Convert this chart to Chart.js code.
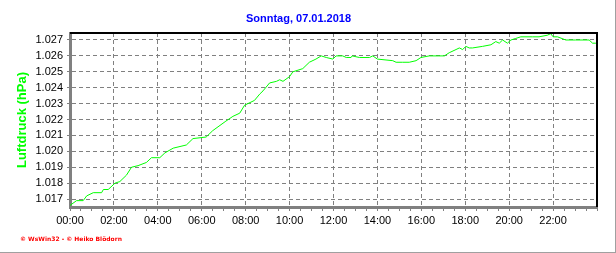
<!DOCTYPE html>
<html>
<head>
<meta charset="utf-8">
<script src="https://cdn.jsdelivr.net/npm/chart.js@4/dist/chart.umd.min.js"></script>
<style>
  html, body { margin: 0; padding: 0; background: #fff; }
  .wrap { width: 616px; height: 253px; box-sizing: border-box; border-right: 1px solid #a0a0a0; border-bottom: 1px solid #a0a0a0; }
</style>
</head>
<body>
<div class="wrap"><canvas id="chart" width="615" height="252"></canvas></div>
<script>
// time of day in hours
const hours = [0, 0.3, 0.6, 0.76, 1.06, 1.44, 1.52, 1.74, 2.05, 2.27, 2.57, 2.8, 3.1, 3.48, 3.71, 4.09,
  4.32, 4.7, 5.3, 5.6, 6.2, 6.5, 7.1, 7.42, 7.73, 7.95, 8.4, 8.64, 8.79, 9.09, 9.4, 9.55, 9.7, 10.0,
  10.15, 10.6, 10.9, 11.2, 11.44, 11.67, 11.97, 12.12, 12.42, 12.58, 12.8, 12.85, 13.18, 13.64, 13.79,
  14.0, 14.7, 14.85, 15.15, 15.45, 15.76, 15.98, 16.36, 16.8, 17.05, 17.27, 17.58, 17.73, 17.88, 18.03,
  18.18, 18.33, 18.79, 19.17, 19.39, 19.55, 19.7, 19.92, 20.08, 20.3, 20.53, 21.06, 21.36, 21.74, 21.89,
  22.0, 22.2, 22.58, 23.03, 23.64, 23.8, 23.95];
// Luftdruck
const pressure = [1.0166, 1.0169, 1.0169, 1.0172, 1.0174, 1.0174, 1.0176, 1.0176, 1.0180, 1.0181, 1.0185,
  1.0190, 1.0191, 1.0193, 1.0196, 1.0196, 1.0199, 1.0202, 1.0204, 1.0208, 1.0209, 1.0213, 1.0219, 1.0222,
  1.0224, 1.0229, 1.0232, 1.0236, 1.0238, 1.0243, 1.0244, 1.0245, 1.0244, 1.0247, 1.0250, 1.0252, 1.0256,
  1.0258, 1.0260, 1.0259, 1.0258, 1.0260, 1.0260, 1.0259, 1.0259, 1.0260, 1.0259, 1.0259, 1.0260, 1.0258,
  1.0257, 1.0256, 1.0256, 1.0256, 1.0257, 1.0259, 1.0260, 1.0260, 1.0260, 1.0262, 1.0264, 1.0265, 1.0264,
  1.0266, 1.0265, 1.0265, 1.0266, 1.0267, 1.0269, 1.0268, 1.0270, 1.0268, 1.0270, 1.0271, 1.0272, 1.0272,
  1.0272, 1.0273, 1.0274, 1.0272, 1.0272, 1.0270, 1.0270, 1.0270, 1.0268, 1.0268];

const yTicks = [1.017, 1.018, 1.019, 1.020, 1.021, 1.022, 1.023, 1.024, 1.025, 1.026, 1.027];
const xTickLabels = ['00:00', '02:00', '04:00', '06:00', '08:00', '10:00', '12:00', '14:00', '16:00',
  '18:00', '20:00', '22:00'];

const frame = {
  id: 'frame',
  afterDraw(chart) {
    const { ctx, chartArea: a } = chart;
    ctx.save();
    ctx.strokeStyle = '#000';
    ctx.lineWidth = 2;
    ctx.beginPath();
    ctx.moveTo(a.left, a.top);
    ctx.lineTo(a.right, a.top);
    ctx.lineTo(a.right, a.bottom);
    ctx.stroke();
    ctx.fillStyle = '#ff0000';
    ctx.font = 'bold 6px "DejaVu Sans"';
    ctx.textBaseline = 'middle';
    ctx.fillText('© WsWin32 - © Heiko Blödorn', 20, 239);
    ctx.restore();
  }
};

new Chart(document.getElementById('chart'), {
  type: 'line',
  data: {
    datasets: [{
      data: hours.map((h, i) => ({ x: h, y: pressure[i] })),
      borderColor: '#00ff00',
      borderWidth: 1,
      pointRadius: 0,
      tension: 0,
      fill: false
    }]
  },
  options: {
    responsive: false,
    animation: false,
    layout: { padding: { left: 0, right: 18, top: 0, bottom: 0 } },
    plugins: {
      legend: { display: false },
      tooltip: { enabled: false },
      title: {
        display: true,
        text: 'Sonntag, 07.01.2018',
        color: '#0000ff',
        font: { family: 'Arial, "Liberation Sans"', size: 11, weight: 'bold' },
        padding: { top: 12, bottom: 7.8 }
      }
    },
    scales: {
      x: {
        type: 'linear',
        min: 0,
        max: 24,
        afterBuildTicks: s => { s.ticks = []; for (let h = 0; h <= 24; h += 0.5) s.ticks.push({ value: h }); },
        afterFit: s => { s.height = 45; },
        ticks: {
          autoSkip: false,
          maxRotation: 0,
          padding: 3,
          color: '#000',
          font: { family: 'Arial, "Liberation Sans"', size: 11 },
          callback: v => (v % 2 === 0 && v < 24) ? xTickLabels[v / 2] : ''
        },
        grid: {
          color: c => (c.tick && c.tick.value % 2 === 0 && c.tick.value > 0 && c.tick.value < 24) ? '#808080' : 'rgba(0,0,0,0)',
          tickColor: '#808080',
          tickLength: 4,
          lineWidth: 1
        },
        border: { color: '#808080', width: 3, dash: [4, 3] }
      },
      y: {
        min: 1.0165,
        max: 1.02744,
        afterBuildTicks: s => { s.ticks = yTicks.map(v => ({ value: v })); },
        afterFit: s => { s.width = 70; },
        title: {
          display: true,
          text: 'Luftdruck (hPa)',
          color: '#00ff00',
          font: { family: 'Arial, "Liberation Sans"', size: 13, weight: 'bold' },
          padding: { top: 15, bottom: 0 }
        },
        ticks: {
          padding: 4,
          color: '#000',
          font: { family: 'Arial, "Liberation Sans"', size: 11 },
          callback: v => v.toFixed(3)
        },
        grid: {
          color: '#808080',
          tickColor: '#808080',
          tickLength: 3,
          lineWidth: 1
        },
        border: { color: '#808080', width: 3, dash: [4, 3] }
      }
    }
  },
  plugins: [frame]
});
</script>
</body>
</html>
